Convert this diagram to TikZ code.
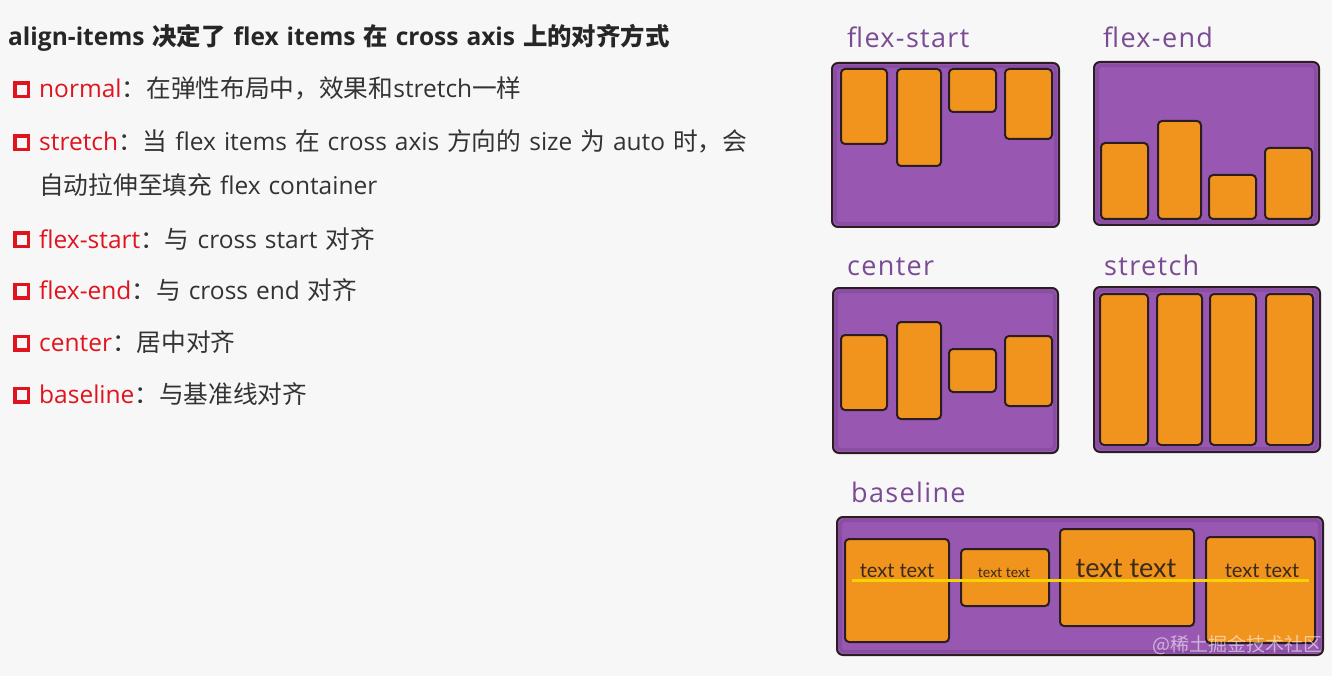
\documentclass[tikz,border=0pt]{standalone}
\usepackage{fontspec}
\newfontfamily\cjk{Noto Sans CJK SC}
\newfontfamily\osans[Scale=1.065,WordSpace=1.25]{Open Sans}
\newfontfamily\labf[LetterSpace=5]{Open Sans}
\newfontfamily\lab{Lato}
\newcommand\zh[1]{{\cjk\fontsize{24.7}{28}\selectfont #1}}
\newcommand\zhb[1]{{\cjk\bfseries\fontsize{24.4}{28}\selectfont #1}}
\definecolor{bg}{HTML}{F7F7F7}
\definecolor{txt}{HTML}{333333}
\definecolor{kw}{HTML}{E0141E}
\definecolor{purp}{HTML}{9858B2}
\definecolor{purpd}{HTML}{6E3A86}
\definecolor{labc}{HTML}{7B4A95}
\definecolor{orng}{HTML}{F0941D}
\definecolor{edge}{HTML}{2B1D22}
\definecolor{yel}{HTML}{F5D400}
\definecolor{itxt}{HTML}{3A2A1A}
\tikzset{
  textline/.style={anchor=base west, inner sep=0, font=\osans\fontsize{23}{28}\selectfont, text=txt},
  bullet/.style={draw=kw, line width=3.5pt, minimum size=13.5pt, inner sep=0},
  lbl/.style={anchor=base west, inner sep=0, font=\labf\fontsize{27}{32}\selectfont, text=labc},
  cont/.style={draw=edge, fill=purp, line width=2pt, rounded corners=6pt, inner sep=0, outer sep=0},
  band/.style={draw=purpd, line width=3pt, opacity=0.35, rounded corners=4pt},
  itm/.style={draw=edge, fill=orng, line width=2pt, rounded corners=4pt, inner sep=0, outer sep=0},
  itxtst/.style={anchor=base, inner sep=0, text=itxt},
}
\newcommand\bx[7]{\node[#1,minimum width={#5-#3},minimum height={#6-#4}] (#2) at ({(#3+#5)/2},{(#4+#6)/2}) {#7};}
\newcommand\cbx[5]{\bx{cont}{#1}{#2}{#3}{#4}{#5}{}\draw[band] ([shift={(3.5,3.5)}]#1.north west) rectangle ([shift={(-3.5,-3.5)}]#1.south east);}
\begin{document}
\begin{tikzpicture}[x=1pt,y=-1pt]
\fill[bg] (0,0) rectangle (1332,676);
\useasboundingbox (0,0) rectangle (1332,676);
% left text
\node[textline, font=\osans\bfseries\fontsize{23}{28}\selectfont, text=black!85] (title) at (8,46) {align-items \zhb{决定了} flex items \zhb{在} cross axis \zhb{上的对齐方式}};
\node[bullet] (b1) at (21.5,90) {};
\node[textline] (l1) at (39,98) {\textcolor{kw}{normal}\zh{：在弹性布局中，效果和}stretch\zh{一样}};
\node[bullet] (b2) at (21.5,143) {};
\node[textline] (l2) at (39,151) {\textcolor{kw}{stretch}\zh{：当} flex items \zh{在} cross axis \zh{方向的} size \zh{为} auto \zh{时，会}};
\node[textline] (l2b) at (39,195) {\zh{自动拉伸至填充} flex container};
\node[bullet] (b3) at (21.5,240) {};
\node[textline] (l3) at (39,248) {\textcolor{kw}{flex-start}\zh{：与} cross start \zh{对齐}};
\node[bullet] (b4) at (21.5,291) {};
\node[textline] (l4) at (39,299) {\textcolor{kw}{flex-end}\zh{：与} cross end \zh{对齐}};
\node[bullet] (b5) at (21.5,343) {};
\node[textline] (l5) at (39,351) {\textcolor{kw}{center}\zh{：居中对齐}};
\node[bullet] (b6) at (21.5,395) {};
\node[textline] (l6) at (39,403) {\textcolor{kw}{baseline}\zh{：与基准线对齐}};
% labels
\node[lbl] (lfs) at (847,48) {flex-start};
\node[lbl] (lfe) at (1103,48) {flex-end};
\node[lbl] (lce) at (847,275) {center};
\node[lbl] (lst) at (1104,275) {stretch};
\node[lbl] (lbl) at (851,502) {baseline};
% flex-start
\cbx{fs}{832}{63}{1059}{227}
\bx{itm}{fs1}{841}{69}{887}{144}{}
\bx{itm}{fs2}{897}{69}{941}{166}{}
\bx{itm}{fs3}{949}{69}{996}{112}{}
\bx{itm}{fs4}{1005}{69}{1052}{139}{}
% flex-end
\cbx{fe}{1094}{62}{1319}{225}
\bx{itm}{fe1}{1101}{143}{1148}{219}{}
\bx{itm}{fe2}{1158}{121}{1201}{219}{}
\bx{itm}{fe3}{1209}{175}{1256}{219}{}
\bx{itm}{fe4}{1265}{148}{1312}{219}{}
% center
\cbx{ce}{833}{288}{1058}{453}
\bx{itm}{ce1}{841}{335}{887}{410}{}
\bx{itm}{ce2}{897}{322}{941}{419}{}
\bx{itm}{ce3}{949}{349}{996}{392}{}
\bx{itm}{ce4}{1005}{336}{1052}{406}{}
% stretch
\cbx{st}{1094}{287}{1320}{452}
\bx{itm}{st1}{1100}{294}{1148}{445}{}
\bx{itm}{st2}{1157}{294}{1202}{445}{}
\bx{itm}{st3}{1210}{294}{1256}{445}{}
\bx{itm}{st4}{1266}{294}{1313}{445}{}
% baseline
\cbx{bl}{837}{517}{1323}{655}
\bx{itm}{bl1}{845}{539}{949}{642}{}
\bx{itm}{bl2}{961}{549}{1049}{606}{}
\bx{itm}{bl3}{1060}{529}{1194}{626}{}
\bx{itm}{bl4}{1206}{537}{1315}{643}{}
\coordinate (yl) at (852,580);
\coordinate (yr) at (1309,580);
\draw[yel, line width=3pt] (yl) -- (yr);
\node[itxtst, font=\lab\fontsize{20}{24}\selectfont] (t1) at (897,577) {text text};
\node[itxtst, font=\lab\fontsize{14}{17}\selectfont] (t2) at (1004,577) {text text};
\node[itxtst, font=\lab\fontsize{27}{32}\selectfont] (t3) at (1126,577) {text text};
\node[itxtst, font=\lab\fontsize{20}{24}\selectfont] (t4) at (1262,577) {text text};
\node[anchor=west, inner sep=0, font=\cjk\fontsize{19}{22}\selectfont, text=white, opacity=0.55] (wm) at (1152,645) {@稀土掘金技术社区};
\end{tikzpicture}
\end{document}
